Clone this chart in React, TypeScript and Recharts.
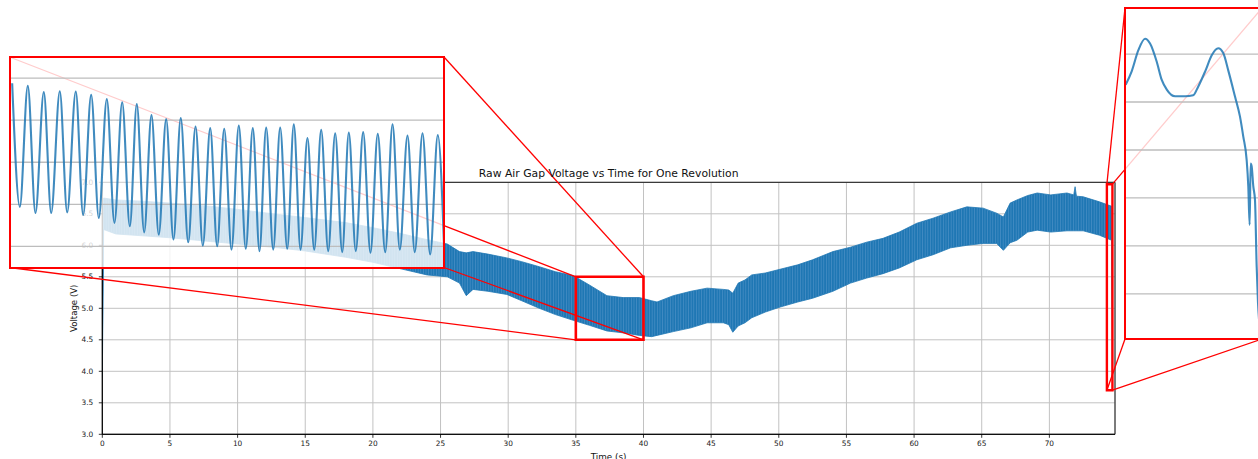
import React from 'react';
import {
  ComposedChart, Area, XAxis, YAxis, CartesianGrid, ReferenceArea,
  LineChart, Line, ReferenceLine,
} from 'recharts';

// ---------- main signal envelope ----------
const mainTime = [0, 0.1, 1, 3, 5, 8, 10, 13, 15, 18, 20, 22, 24, 25.5, 26.4, 26.9, 27.4, 28.5, 29.9, 31,
  32.3, 33.5, 34.8, 36, 37.3, 38.5, 39.7, 40.6, 41, 42.2, 43.5, 44.7, 45.9, 46.3, 46.6, 47, 47.5, 48, 49, 50.1,
  51.4, 52.5, 54, 55.3, 56.5, 57.7, 58.9, 60.2, 61.4, 62.7, 63.9, 65.1, 66.1, 66.6, 67.1, 67.6, 68.4, 69.1, 70.1, 71.3,
  71.8, 71.9, 72.0, 72.5, 73.7, 74.6, 74.65];
const mainLow = [3.9, 6.25, 6.18, 6.15, 6.12, 6.06, 6.02, 5.96, 5.91, 5.81, 5.73, 5.63, 5.53, 5.5, 5.4, 5.2, 5.3, 5.27, 5.22, 5.12,
  5.0, 4.9, 4.81, 4.73, 4.64, 4.61, 4.57, 4.55, 4.57, 4.63, 4.69, 4.77, 4.77, 4.74, 4.62, 4.72, 4.77, 4.85, 4.94, 5.02,
  5.10, 5.16, 5.27, 5.40, 5.48, 5.55, 5.64, 5.77, 5.85, 5.96, 6.00, 6.03, 6.03, 5.92, 6.04, 6.08, 6.21, 6.24, 6.21, 6.23,
  6.23, 6.23, 6.23, 6.23, 6.16, 6.08, 3.9];
const mainHigh = [4.3, 6.75, 6.72, 6.70, 6.67, 6.62, 6.57, 6.49, 6.44, 6.36, 6.28, 6.19, 6.09, 6.02, 5.90, 5.88, 5.90, 5.86, 5.80, 5.74,
  5.66, 5.58, 5.52, 5.37, 5.20, 5.17, 5.17, 5.12, 5.10, 5.20, 5.27, 5.32, 5.30, 5.29, 5.24, 5.40, 5.45, 5.53, 5.56, 5.62,
  5.69, 5.77, 5.90, 5.97, 6.05, 6.11, 6.21, 6.35, 6.43, 6.53, 6.61, 6.59, 6.51, 6.45, 6.67, 6.72, 6.79, 6.83, 6.80, 6.83,
  6.80, 6.93, 6.78, 6.77, 6.69, 6.62, 5.0];

// ---------- zoom inset A (35 s .. 40 s) ----------
const insetAPeakT = [35.025, 35.205, 35.389, 35.573, 35.757, 35.934, 36.114, 36.291, 36.459, 36.628, 36.797, 36.965, 37.135, 37.304, 37.465,
  37.633, 37.794, 37.948, 38.109, 38.266, 38.423, 38.581, 38.742, 38.899, 39.064, 39.232, 39.402, 39.574, 39.747, 39.923];
const insetAPeakV = [5.375, 5.363, 5.333, 5.337, 5.336, 5.32, 5.30, 5.285, 5.276, 5.224, 5.205, 5.21, 5.17, 5.162, 5.159,
  5.174, 5.162, 5.165, 5.165, 5.18, 5.115, 5.154, 5.138, 5.141, 5.143, 5.135, 5.18, 5.127, 5.138, 5.129];
const insetATroughT = [35.113, 35.293, 35.474, 35.658, 35.842, 36.022, 36.202, 36.379, 36.544, 36.712, 36.881, 37.051, 37.219, 37.384, 37.549,
  37.713, 37.871, 38.029, 38.19, 38.343, 38.501, 38.662, 38.823, 38.979, 39.148, 39.318, 39.486, 39.658, 39.835, 40.0];
const insetATroughV = [4.788, 4.759, 4.759, 4.762, 4.75, 4.735, 4.712, 4.696, 4.667, 4.656, 4.633, 4.62, 4.604, 4.601, 4.585,
  4.589, 4.578, 4.585, 4.589, 4.585, 4.585, 4.578, 4.573, 4.578, 4.57, 4.573, 4.585, 4.573, 4.562, 4.54];
const insetAGrid = [4.6, 4.8, 5.0, 5.2, 5.4];

// ---------- zoom inset B (end of revolution) ----------
const insetBT = [74.252, 74.270, 74.290, 74.310, 74.325, 74.345, 74.360, 74.375, 74.400, 74.430, 74.454, 74.469, 74.490, 74.510,
  74.529, 74.544, 74.559, 74.579, 74.594, 74.604, 74.614, 74.619, 74.623, 74.626, 74.629, 74.634, 74.639, 74.644, 74.648, 74.655];
const insetBV = [6.18, 6.32, 6.54, 6.66, 6.61, 6.42, 6.23, 6.13, 6.06, 6.06, 6.07, 6.16, 6.32, 6.49,
  6.56, 6.51, 6.33, 6.06, 5.85, 5.64, 5.40, 5.12, 4.72, 5.36, 5.33, 5.12, 4.98, 4.29, 3.91, 3.6];
const insetBGrid = [4.0, 4.5, 5.0, 5.5, 6.0, 6.5];

// ---------- axes ----------
const xTicks = [0, 5, 10, 15, 20, 25, 30, 35, 40, 45, 50, 55, 60, 65, 70];
const xMinorTicks = Array.from({ length: 75 }, (_, i) => i);
const yTicks = [3.0, 3.5, 4.0, 4.5, 5.0, 5.5, 6.0, 6.5, 7.0];
const xDomain: [number, number] = [0, 74.85];
const yDomain: [number, number] = [3, 7];
const zoomA = { t0: 35, t1: 40, v0: 4.5, v1: 5.5 };
const zoomB = { t0: 74.25, t1: 74.66, v0: 3.7, v1: 6.97 };

const mainData = mainTime.map((t, i) => ({ t, range: [mainLow[i], mainHigh[i]] }));
const insetAData = [
  ...insetAPeakT.map((t, i) => ({ t, v: insetAPeakV[i] })),
  ...insetATroughT.map((t, i) => ({ t, v: insetATroughV[i] })),
].sort((a, b) => a.t - b.t);
const insetBData = insetBT.map((t, i) => ({ t, v: insetBV[i] }));

// ---------- layout ----------
const W = 1258;
const H = 459;
const PL = 102.3, PR = 1115, PT = 182.3, PB = 434.3;
const FONT = 'DejaVu Sans, sans-serif';
const BLUE = '#1f77b4';

const insetA = { x0: 9.5, y0: 57, x1: 444, y1: 267.5 };
const insetB = { x0: 1125, y0: 8, x1: 1262, y1: 339 };

const px = (t: number) => PL + ((t - xDomain[0]) / (xDomain[1] - xDomain[0])) * (PR - PL);
const py = (v: number) => PB - ((v - yDomain[0]) / (yDomain[1] - yDomain[0])) * (PB - PT);

function Connectors() {
  const lines: Array<[number, number, number, number]> = [];
  const add = (z: typeof zoomA, b: typeof insetA) => {
    lines.push([b.x0, b.y0, px(z.t0), py(z.v1)]);
    lines.push([b.x1, b.y0, px(z.t1), py(z.v1)]);
    lines.push([b.x0, b.y1, px(z.t0), py(z.v0)]);
    lines.push([b.x1, b.y1, px(z.t1), py(z.v0)]);
  };
  add(zoomA, insetA);
  add(zoomB, insetB);
  return (
    <svg width={W} height={H} style={{ position: 'absolute', left: 0, top: 0 }}>
      {lines.map((l, i) => (
        <line key={i} x1={l[0]} y1={l[1]} x2={l[2]} y2={l[3]} stroke="#ff0000" strokeWidth={1.3} />
      ))}
      <text x={(PL + PR) / 2} y={177} textAnchor="middle" fontFamily={FONT} fontSize={10.8} fill="#111">
        Raw Air Gap Voltage vs Time for One Revolution
      </text>
      <text x={(PL + PR) / 2} y={459.5} textAnchor="middle" fontFamily={FONT} fontSize={8.8} fill="#111">
        Time (s)
      </text>
      <text transform={`translate(76.5,${(PT + PB) / 2}) rotate(-90)`} textAnchor="middle" fontFamily={FONT} fontSize={8.6} fill="#111">
        Voltage (V)
      </text>
    </svg>
  );
}

function Inset({ box, data, xd, yd, grid }: any) {
  const w = box.x1 - box.x0;
  const h = box.y1 - box.y0;
  return (
    <>
      <div style={{ position: 'absolute', left: box.x0, top: box.y0, width: w, height: h, background: 'rgba(255,255,255,0.8)' }}>
        <LineChart width={w} height={h} data={data} margin={{ top: 0, right: 0, bottom: 0, left: 0 }}>
          <XAxis type="number" dataKey="t" domain={xd} hide allowDataOverflow />
          <YAxis type="number" domain={yd} hide allowDataOverflow />
          {grid.map((g: number) => (
            <ReferenceLine key={g} y={g} stroke="#bdbdbd" strokeWidth={1.3} />
          ))}
          <Line type="monotone" dataKey="v" stroke={BLUE} strokeOpacity={0.85} strokeWidth={2.1} dot={false} isAnimationActive={false} />
        </LineChart>
      </div>
      <div style={{ position: 'absolute', left: box.x0 - 1, top: box.y0 - 1, width: w + 2, height: h + 2, border: '2px solid #ff0000', boxSizing: 'border-box' }} />
    </>
  );
}

export default function App() {
  return (
    <div style={{ position: 'absolute', left: 0, top: 0, width: W, height: H, overflow: 'hidden', background: '#fff' }}>
      <div style={{ position: 'absolute', left: 0, top: 0 }}>
        <ComposedChart width={W} height={H} data={mainData}
          margin={{ top: PT, right: W - PR, left: PL - 40, bottom: H - PB - 20 }}>
          <defs>
            <pattern id="stripes" patternUnits="userSpaceOnUse" width={2.6} height={10}>
              <rect x={0} y={0} width={2.6} height={10} fill="#4a90c6" />
              <rect x={0} y={0} width={1.9} height={10} fill={BLUE} />
            </pattern>
          </defs>
          <CartesianGrid stroke="#c2c2c2" strokeWidth={1} />
          <XAxis xAxisId="minor" type="number" dataKey="t" domain={xDomain} ticks={xMinorTicks} height={0}
            axisLine={false} tickSize={2} tickLine={{ stroke: '#000', strokeWidth: 0.8 }} tickFormatter={() => ''} allowDataOverflow />
          <XAxis type="number" dataKey="t" domain={xDomain} ticks={xTicks} height={20} interval={0}
            tickSize={3.5} tickMargin={2.5} axisLine={{ stroke: '#000', strokeWidth: 0.9 }}
            tickLine={{ stroke: '#000', strokeWidth: 0.8 }}
            tick={{ fontSize: 7.4, fill: '#222', fontFamily: FONT }} allowDataOverflow />
          <YAxis type="number" domain={yDomain} ticks={yTicks} width={40} interval={0}
            tickSize={3.5} tickMargin={5.5} axisLine={{ stroke: '#000', strokeWidth: 0.9 }}
            tickLine={{ stroke: '#000', strokeWidth: 0.8 }}
            tickFormatter={(v: number) => v.toFixed(1)}
            tick={{ fontSize: 7.4, fill: '#222', fontFamily: FONT }} allowDataOverflow />
          <Area type="linear" dataKey="range" stroke={BLUE} strokeWidth={0.8} fill="url(#stripes)" fillOpacity={1} isAnimationActive={false} />
          <ReferenceArea x1={xDomain[0]} x2={xDomain[1]} y1={yDomain[0]} y2={yDomain[1]} fill="none" stroke="#000" strokeWidth={0.9} ifOverflow="visible" />
          <ReferenceArea x1={zoomA.t0} x2={zoomA.t1} y1={zoomA.v0} y2={zoomA.v1} fill="none" fillOpacity={0} stroke="#ff0000" strokeWidth={2.6} ifOverflow="visible" />
          <ReferenceArea x1={zoomB.t0} x2={zoomB.t1} y1={zoomB.v0} y2={zoomB.v1} fill="none" fillOpacity={0} stroke="#ff0000" strokeWidth={2.4} ifOverflow="visible" />
        </ComposedChart>
      </div>
      <Connectors />
      <Inset box={insetA} data={insetAData} xd={[zoomA.t0, zoomA.t1]} yd={[zoomA.v0, zoomA.v1]} grid={insetAGrid} />
      <Inset box={insetB} data={insetBData} xd={[zoomB.t0, zoomB.t1]} yd={[3.53, 6.98]} grid={insetBGrid} />
    </div>
  );
}
